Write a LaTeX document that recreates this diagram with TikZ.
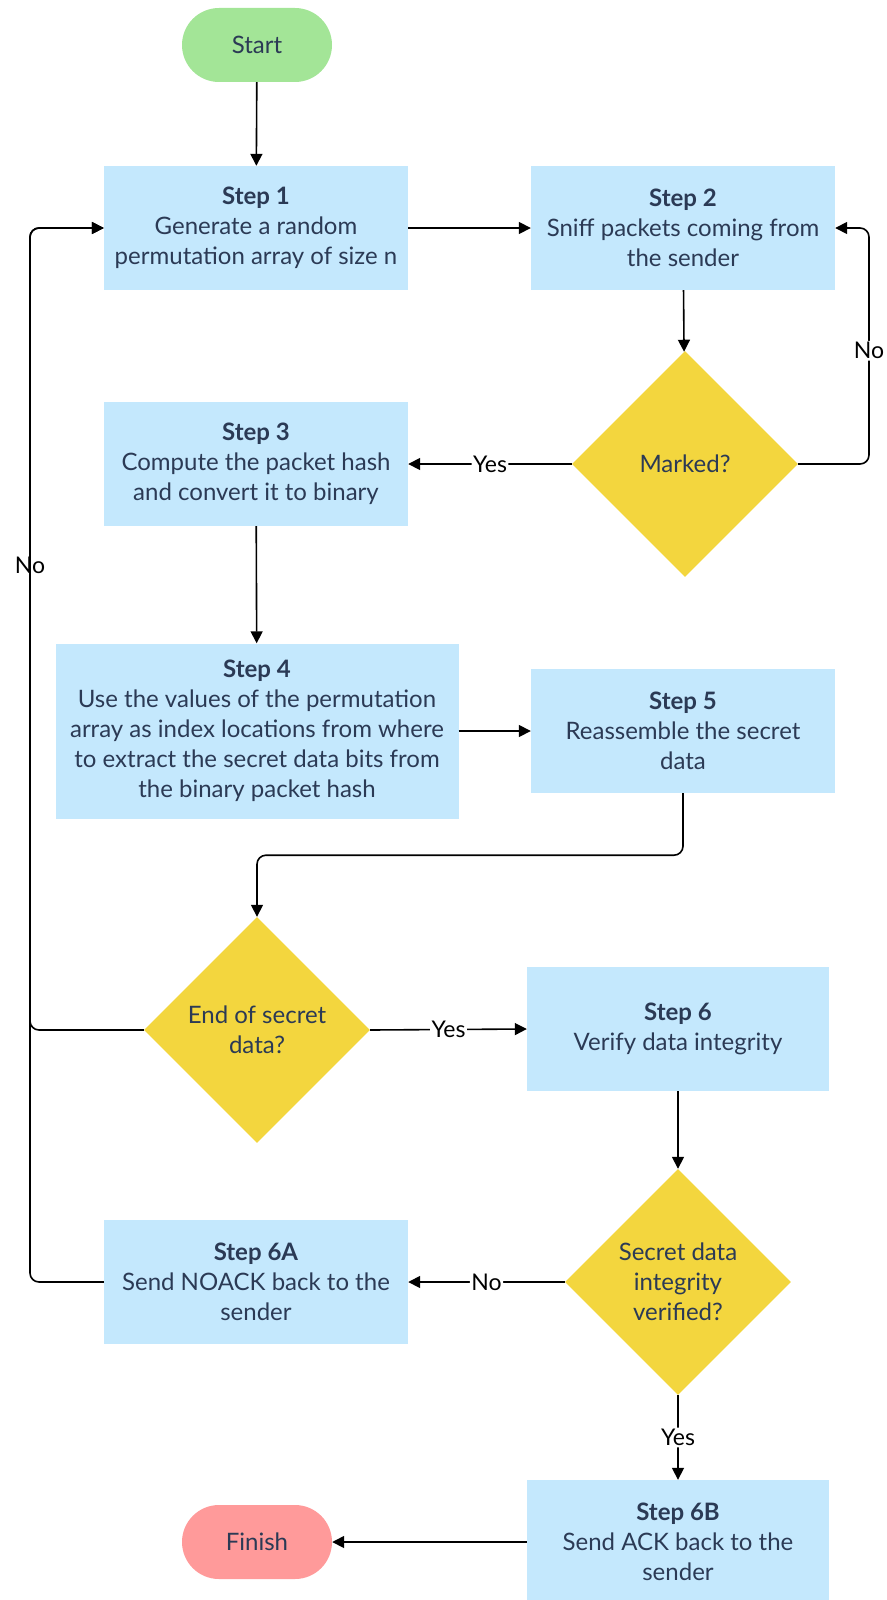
\documentclass[tikz,border=0pt]{standalone}
\usepackage{fontspec}
\setmainfont{Lato}
\usetikzlibrary{shapes.geometric,arrows.meta}

\definecolor{boxblue}{HTML}{C4E8FD}
\definecolor{decyellow}{HTML}{F3D63E}
\definecolor{startgreen}{HTML}{A3E597}
\definecolor{finishred}{HTML}{FF9A9A}
\definecolor{navytext}{HTML}{2B3A55}

\tikzset{
  stepbox/.style={rectangle, fill=boxblue, text=navytext, minimum width=304pt,
    minimum height=124pt, inner sep=0pt, align=center,
    font=\fontsize{24}{30}\selectfont},
  decision/.style={diamond, aspect=1, fill=decyellow, text=navytext,
    minimum width=226pt, minimum height=226pt, inner sep=0pt, align=center,
    font=\fontsize{24}{30}\selectfont},
  terminal/.style={rectangle, rounded corners=37pt, minimum width=150pt,
    minimum height=74pt, text=navytext, font=\fontsize{24}{30}\selectfont},
  flowline/.style={line width=1.6pt, rounded corners=9pt,
    -{Triangle[length=12pt,width=12pt]}},
  edgelabel/.style={fill=white, inner sep=1.5pt, text=black,
    font=\fontsize{23}{26}\selectfont}
}

\begin{document}
\begin{tikzpicture}[x=1pt, y=-1pt]
\useasboundingbox (0,0) rectangle (886,1600);

\node[terminal, fill=startgreen] (start) at (257,45) {Start};
\node[stepbox] (s1) at (256,228) {\textbf{Step 1}\\Generate a random\\permutation array of size n};
\node[stepbox] (s2) at (683,228) {\textbf{Step 2}\\Sniff packets coming from\\the sender};
\node[decision] (marked) at (685,464) {Marked?};
\node[stepbox] (s3) at (256,464) {\textbf{Step 3}\\Compute the packet hash\\and convert it to binary};
\node[stepbox, minimum width=403pt, minimum height=175pt] (s4) at (257,731)
  {\textbf{Step 4}\\Use the values of the permutation\\array as index locations from where\\to extract the secret data bits from\\the binary packet hash};
\node[stepbox] (s5) at (683,731) {\textbf{Step 5}\\Reassemble the secret\\data};
\node[decision] (endq) at (257,1030) {End of secret\\data?};
\node[stepbox, minimum width=302pt] (s6) at (678,1029) {\textbf{Step 6}\\Verify data integrity};
\node[decision] (verq) at (678,1282) {Secret data\\integrity\\verified?};
\node[stepbox] (s6a) at (256,1282) {\textbf{Step 6A}\\Send NOACK back to the\\sender};
\node[stepbox, minimum width=302pt] (s6b) at (678,1542) {\textbf{Step 6B}\\Send ACK back to the\\sender};
\node[terminal, fill=finishred] (finish) at (257,1542) {Finish};

\coordinate (rloop) at (869,228);
\coordinate (lloop) at (30,228);

% main flow
\draw[flowline] (start) -- (s1);
\draw[flowline] (s1) -- (s2);
\draw[flowline] (s2) -- (marked);
\draw[flowline] (marked.east) -| node[edgelabel, pos=0.74] {No} (rloop) -- (s2.east);
\draw[flowline] (marked.west) -- node[edgelabel] {Yes} (s3.east);
\draw[flowline] (s3) -- (s4);
\draw[flowline] (s4.east) -- (s5.west);
\draw[flowline] (s5.south) -- ++(0,62) -| (endq.north);

% end of data check
\draw[flowline] (endq.west) -| node[edgelabel, pos=0.79] {No} (lloop) -- (s1.west);
\draw[flowline] (endq.east) -- node[edgelabel] {Yes} (s6.west);
\draw[flowline] (s6) -- (verq);

% integrity check
\draw[flowline] (verq.west) -- node[edgelabel] {No} (s6a.east);
\draw[flowline] (s6a.west) -| (lloop) -- (s1.west);
\draw[flowline] (verq.south) -- node[edgelabel] {Yes} (s6b.north);
\draw[flowline] (s6b.west) -- (finish.east);

\end{tikzpicture}
\end{document}
